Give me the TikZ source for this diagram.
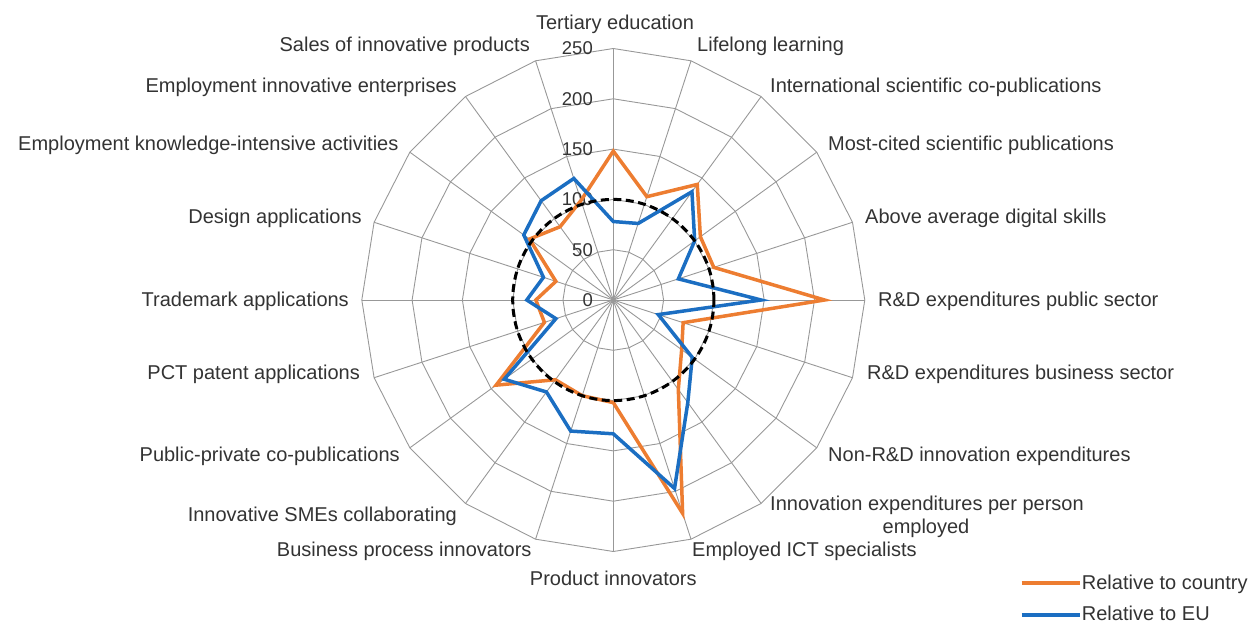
\documentclass[tikz,border=0pt]{standalone}
\usepackage{fontspec}
\setmainfont{Liberation Sans}
\definecolor{orangeC}{HTML}{ED7D31}
\definecolor{blueC}{HTML}{1B6EC2}
\definecolor{gridC}{HTML}{989898}
\definecolor{textC}{HTML}{333333}
\begin{document}
\begin{tikzpicture}[x=1pt,y=1pt,
  gridline/.style={draw=gridC, line width=0.9pt},
  lab/.style={inner sep=0pt, text=textC, font=\fontsize{20}{23}\selectfont},
  tick/.style={inner sep=0pt, anchor=east, text=textC, font=\fontsize{18.5}{22}\selectfont},
  countryline/.style={draw=orangeC, line width=3.5pt, line join=miter},
  euline/.style={draw=blueC, line width=3.5pt, line join=miter},
  refline/.style={draw=black, line width=3pt, dash pattern=on 8pt off 4.5pt}]
\useasboundingbox (-613.3,-324) rectangle (644.7,300);
\coordinate (c) at (0,0);
% grid
\begin{scope}[scale=1.006]
  \foreach \i in {0,...,19} \draw[gridline] (c) -- ({90-18*\i}:250);
  \foreach \r in {50,100,150,200,250}
    \draw[gridline] (90:\r) \foreach \i in {1,...,19}{ -- ({90-18*\i}:\r)} -- cycle;
\end{scope}
% tick labels
\foreach \t in {0,50,100,150,200,250}
  \node[tick] (tick\t) at (-20.3,{\t*1.006}) {\t};
% data
\begin{scope}[scale=1.006]
  \draw[countryline] (90:148) -- (72:108) -- (54:142) -- (36:107) -- (18:105) -- (0:210)
    -- (-18:73) -- (-36:84) -- (-54:110) -- (-72:223) -- (-90:102) -- (-108:100)
    -- (-126:98) -- (-144:144) -- (-162:72) -- (180:77) -- (162:60) -- (144:103)
    -- (126:90) -- (108:104) -- cycle;
  \draw[euline] (90:78) -- (72:80) -- (54:133) -- (36:100) -- (18:68) -- (0:147)
    -- (-18:47) -- (-36:97) -- (-54:126) -- (-72:197) -- (-90:133) -- (-108:137)
    -- (-126:113) -- (-144:134) -- (-162:60) -- (180:86) -- (162:73) -- (144:110)
    -- (126:122) -- (108:127) -- cycle;
  \draw[refline] (c) circle[radius=100];
\end{scope}
% axis labels
\node[lab, anchor=base] (l0) at (1.7,270) {Tertiary education};
\node[lab, anchor=base west] (l1) at (83.7,248) {Lifelong learning};
\node[lab, anchor=base west] (l2) at (156.7,207) {International scientific co-publications};
\node[lab, anchor=base west] (l3) at (214.7,149) {Most-cited scientific publications};
\node[lab, anchor=base west] (l4) at (251.7,76) {Above average digital skills};
\node[lab, anchor=base west] (l5) at (264.7,-6) {R\&D expenditures public sector};
\node[lab, anchor=base west] (l6) at (253.7,-79) {R\&D expenditures business sector};
\node[lab, anchor=base west] (l7) at (214.7,-161) {Non-R\&D innovation expenditures};
\node[lab, anchor=base west] (l8a) at (156.7,-210) {Innovation expenditures per person};
\node[lab, anchor=base] (l8b) at (312.7,-233) {employed};
\node[lab, anchor=base west] (l9) at (78.7,-256) {Employed ICT specialists};
\node[lab, anchor=base] (l10) at (0,-285) {Product innovators};
\node[lab, anchor=base east] (l11) at (-81.6,-256) {Business process innovators};
\node[lab, anchor=base east] (l12) at (-156.3,-221) {Innovative SMEs collaborating};
\node[lab, anchor=base east] (l13) at (-213.3,-161) {Public-private co-publications};
\node[lab, anchor=base east] (l14) at (-253.3,-79) {PCT patent applications};
\node[lab, anchor=base east] (l15) at (-264.3,-6) {Trademark applications};
\node[lab, anchor=base east] (l16) at (-251.3,76) {Design applications};
\node[lab, anchor=base east] (l17) at (-214.7,149) {Employment knowledge-intensive activities};
\node[lab, anchor=base east] (l18) at (-156.3,207) {Employment innovative enterprises};
\node[lab, anchor=base east] (l19) at (-83.3,248) {Sales of innovative products};
% legend
\coordinate (lgA1) at (408.4,-283);
\coordinate (lgA2) at (466.7,-283);
\coordinate (lgB1) at (408.4,-315);
\coordinate (lgB2) at (466.7,-315);
\draw[countryline] (lgA1) -- (lgA2);
\draw[euline] (lgB1) -- (lgB2);
\node[lab, anchor=base west] (lgA) at (468.4,-289) {Relative to country};
\node[lab, anchor=base west] (lgB) at (468.4,-320) {Relative to EU};
\end{tikzpicture}
\end{document}
